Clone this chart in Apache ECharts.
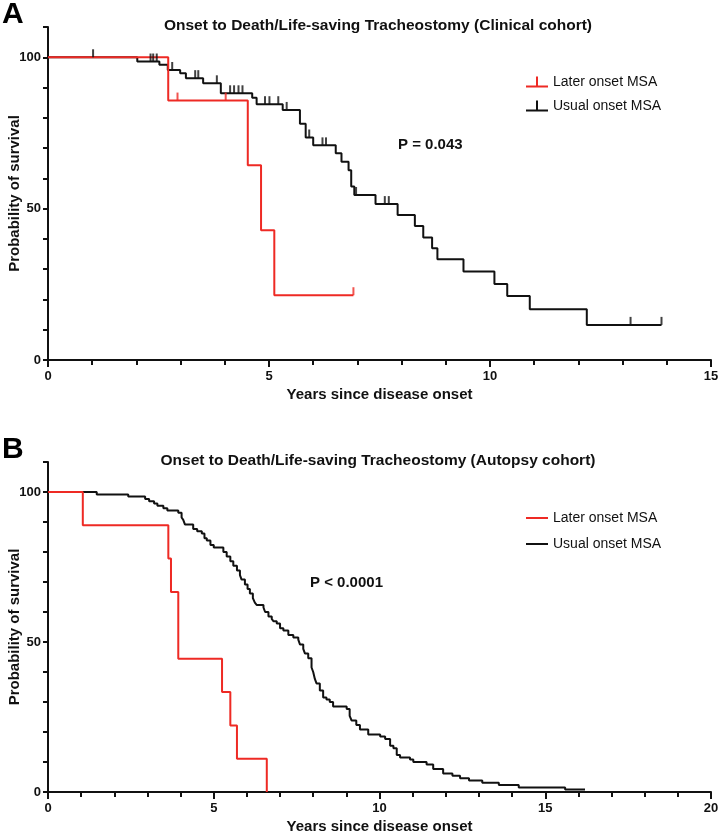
<!DOCTYPE html>
<html>
<head>
<meta charset="utf-8">
<script src="https://cdn.jsdelivr.net/npm/echarts@6/dist/echarts.min.js"></script>
<style>
  html, body { margin: 0; padding: 0; background: #fff; }
  #chart { width: 719px; height: 840px; }
</style>
</head>
<body>
<div id="chart"></div>
<script>
// A: clinical cohort
var clinLaterT = [0, 2.72, 4.52, 4.82, 5.12, 6.91];
var clinLaterS = [100, 85.7, 64.3, 42.9, 21.4, 21.4];
var clinLaterCens = [2.93, 4.02, 6.91];

var clinUsualT = [0, 2.02, 2.52, 2.71, 2.99, 3.12, 3.51, 3.91, 4.62, 4.72, 5.31, 5.70, 5.83, 6.00,
  6.51, 6.64, 6.80, 6.86, 6.93, 7.41, 7.91, 8.30, 8.49, 8.69, 8.81, 9.40, 10.10, 10.39, 10.90, 12.19, 13.88];
var clinUsualS = [100, 98.6, 97.5, 95.8, 94.7, 93.1, 91.4, 88.1, 86.6, 84.5, 82.6, 78.0, 73.5, 70.9,
  68.3, 65.5, 62.7, 57.3, 54.5, 51.5, 47.9, 44.3, 40.5, 36.9, 33.3, 29.2, 25.1, 21.1, 16.8, 11.6, 11.6];
var clinUsualCens = [1.02, 2.32, 2.38, 2.46, 2.81, 3.33, 3.40, 3.82, 4.12, 4.21, 4.31, 4.40, 4.91, 5.01,
  5.21, 5.40, 5.91, 6.21, 6.29, 6.97, 7.62, 7.71, 13.18, 13.88];

// B: autopsy cohort
var autoLaterT = [0, 1.05, 3.63, 3.71, 3.93, 5.25, 5.5, 5.7, 6.6];
var autoLaterS = [100, 88.9, 77.8, 66.7, 44.4, 33.3, 22.2, 11.1, 0];

var autoUsualT = [0, 1.47, 2.42, 2.93, 3.05, 3.2, 3.3, 3.48, 3.6, 3.93, 4.03, 4.08, 4.13, 4.38, 4.5, 4.64,
  4.72, 4.79, 4.9, 5.0, 5.29, 5.39, 5.5, 5.59, 5.7, 5.79, 5.84, 5.94, 6.02, 6.09, 6.18, 6.24, 6.3, 6.5,
  6.55, 6.65, 6.75, 6.8, 6.9, 7.0, 7.1, 7.25, 7.4, 7.55, 7.6, 7.7, 7.75, 7.85, 7.95, 8.0, 8.05, 8.1, 8.2,
  8.3, 8.4, 8.5, 8.6, 9.01, 9.1, 9.16, 9.3, 9.41, 9.66, 10.02, 10.17, 10.32, 10.42, 10.52, 10.62, 10.92,
  11.02, 11.42, 11.62, 11.92, 12.2, 12.43, 12.7, 13.1, 13.6, 14.2, 15.6, 16.2];
var autoUsualS = [100, 99.2, 98.5, 97.7, 96.9, 96.2, 95.4, 94.6, 93.8, 93.1, 91.5, 90.7, 89.2, 87.7, 86.9, 86.2,
  84.6, 83.8, 82.3, 81.5, 80.0, 78.5, 76.9, 75.4, 73.8, 72.3, 70.8, 69.2, 67.7, 66.2, 64.6, 63.1, 62.3, 61.5,
  60.0, 58.5, 57.7, 56.9, 56.2, 54.6, 53.8, 52.3, 51.5, 50.8, 49.2, 47.7, 46.2, 44.6, 41.5, 40.0, 37.7, 36.2, 33.8,
  31.5, 30.8, 30.0, 28.5, 27.7, 25.4, 23.8, 22.3, 20.8, 19.2, 18.5, 17.7, 15.4, 14.6, 12.3, 11.5, 10.8,
  10.0, 9.2, 7.7, 6.2, 5.4, 4.6, 3.8, 3.1, 2.3, 1.5, 0.8, 0.8];

var titleA = 'Onset to Death/Life-saving Tracheostomy (Clinical cohort)';
var titleB = 'Onset to Death/Life-saving Tracheostomy (Autopsy cohort)';
var pA = 'P = 0.043';
var pB = 'P < 0.0001';
var names = ['Later onset MSA', 'Usual onset MSA'];

var RED = '#ee2a24';
var BLK = '#111111';
var FONT = 'Liberation Sans, Arial, sans-serif';

function zip(T, S) {
  var out = [];
  for (var i = 0; i < T.length; i++) out.push([T[i], S[i]]);
  return out;
}
// survival value of a step curve at time t (to place the censor marks)
function survAt(T, S, t) {
  var v = S[0];
  for (var i = 0; i < T.length; i++) { if (T[i] <= t) v = S[i]; }
  return v;
}
function cens(T, S, C) {
  return C.map(function (t) { return [t, survAt(T, S, t)]; });
}

function xAx(idx, max) {
  return {
    type: 'value', gridIndex: idx, min: 0, max: max, interval: 5,
    name: 'Years since disease onset', nameLocation: 'middle', nameGap: 27, nameMoveOverlap: false,
    nameTextStyle: { fontFamily: FONT, fontWeight: 'bold', fontSize: 15, color: BLK },
    axisLine: { lineStyle: { color: BLK, width: 2 } },
    axisTick: { length: 7, lineStyle: { color: BLK, width: 2 } },
    minorTick: { show: true, splitNumber: 5, length: 5, lineStyle: { color: BLK, width: 2 } },
    axisLabel: { fontFamily: FONT, fontWeight: 'bold', fontSize: 13, color: BLK, margin: 10 },
    splitLine: { show: false }
  };
}
function yAx(idx) {
  return {
    type: 'value', gridIndex: idx, min: 0, max: 110, interval: 10,
    name: 'Probability of survival', nameLocation: 'middle', nameGap: 26, nameMoveOverlap: false,
    nameTextStyle: { fontFamily: FONT, fontWeight: 'bold', fontSize: 15, color: BLK },
    axisLine: { show: true, lineStyle: { color: BLK, width: 2 } },
    axisTick: { show: true, length: 5, lineStyle: { color: BLK, width: 2 } },
    axisLabel: {
      fontFamily: FONT, fontWeight: 'bold', fontSize: 13, color: BLK, margin: 7,
      formatter: function (v) { return (v % 50 === 0 && v <= 100) ? String(v) : ''; }
    },
    splitLine: { show: false }
  };
}
function stepSeries(name, idx, T, S, color) {
  return {
    name: name, type: 'line', step: 'end', xAxisIndex: idx, yAxisIndex: idx,
    data: zip(T, S), showSymbol: false, symbol: 'none',
    lineStyle: { color: color, width: 2 }, itemStyle: { color: color },
    z: color === RED ? 4 : 3, animation: false
  };
}
function censSeries(idx, data, color) {
  return {
    name: 'censor', type: 'scatter', xAxisIndex: idx, yAxisIndex: idx,
    data: data, symbol: 'rect', symbolSize: [2, 8], symbolOffset: [0, -4],
    itemStyle: { color: color }, z: color === RED ? 5 : 4, animation: false, silent: true
  };
}

var tickIcon = 'path://M0,9h22v2h-22z M10,0h2v9h-2z';
var lineIcon = 'path://M0,0h22v2h-22z';

var chart = echarts.init(document.getElementById('chart'), null, { renderer: 'canvas' });
chart.setOption({
  backgroundColor: '#fff',
  animation: false,
  title: [
    { text: titleA, left: 373, top: 13, textAlign: 'center',
      textStyle: { fontFamily: FONT, fontWeight: 'bold', fontSize: 15.5, color: BLK } },
    { text: titleB, left: 373, top: 448, textAlign: 'center',
      textStyle: { fontFamily: FONT, fontWeight: 'bold', fontSize: 15.5, color: BLK } }
  ],
  legend: [
    { left: 521, top: 70, orient: 'vertical', itemGap: 10, itemWidth: 22, itemHeight: 11,
      data: [{ name: names[0], icon: tickIcon }, { name: names[1], icon: tickIcon }],
      textStyle: { fontFamily: FONT, fontSize: 14, color: BLK }, selectedMode: false },
    { left: 521, top: 506, orient: 'vertical', itemGap: 12, itemWidth: 22, itemHeight: 2,
      data: [{ name: names[0], icon: lineIcon }, { name: names[1], icon: lineIcon }],
      textStyle: { fontFamily: FONT, fontSize: 14, color: BLK }, selectedMode: false }
  ],
  grid: [
    { left: 48, right: 8, top: 27, bottom: 480, containLabel: false, outerBoundsMode: 'none' },
    { left: 48, right: 8, top: 462, bottom: 48, containLabel: false, outerBoundsMode: 'none' }
  ],
  xAxis: [xAx(0, 15), xAx(1, 20)],
  yAxis: [yAx(0), yAx(1)],
  graphic: [
    { type: 'text', left: 2, top: 0, style: { text: 'A', fontFamily: FONT, fontWeight: 'bold', fontSize: 30, fill: '#000' } },
    { type: 'text', left: 2, top: 435, style: { text: 'B', fontFamily: FONT, fontWeight: 'bold', fontSize: 30, fill: '#000' } },
    { type: 'text', left: 398, top: 137, style: { text: pA, fontFamily: FONT, fontWeight: 'bold', fontSize: 15, fill: BLK } },
    { type: 'text', left: 310, top: 575, style: { text: pB, fontFamily: FONT, fontWeight: 'bold', fontSize: 15, fill: BLK } }
  ],
  series: [
    stepSeries(names[1], 0, clinUsualT, clinUsualS, BLK),
    stepSeries(names[0], 0, clinLaterT, clinLaterS, RED),
    censSeries(0, cens(clinUsualT, clinUsualS, clinUsualCens), BLK),
    censSeries(0, cens(clinLaterT, clinLaterS, clinLaterCens), RED),
    stepSeries(names[1], 1, autoUsualT, autoUsualS, BLK),
    stepSeries(names[0], 1, autoLaterT, autoLaterS, RED)
  ]
});
</script>
</body>
</html>
